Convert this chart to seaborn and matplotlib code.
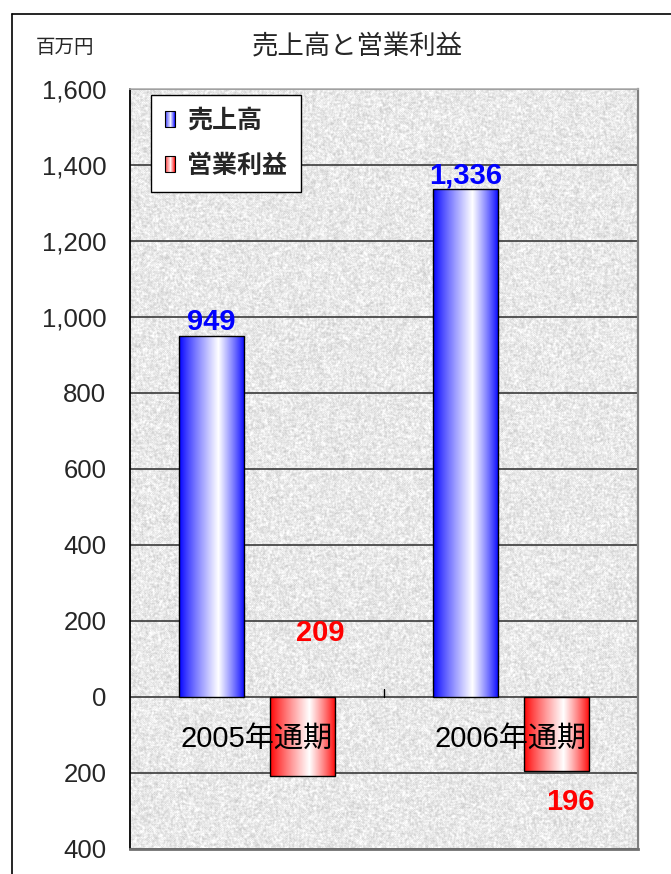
import numpy as np
import pandas as pd
import matplotlib
matplotlib.use("Agg")
import matplotlib.pyplot as plt
import seaborn as sns
from matplotlib.patches import Rectangle
from matplotlib.lines import Line2D
from matplotlib.legend_handler import HandlerBase
from matplotlib.ticker import FuncFormatter, MultipleLocator

# ---------------- data ----------------
periods = ["2005年通期", "2006年通期"]
series_names = ["売上高", "営業利益"]
sales = [949, 1336]
op_income = [-209, -196]
title = "売上高と営業利益"
unit = "百万円"

df = pd.DataFrame({
    "period": periods * 2,
    "series": [series_names[0]] * len(periods) + [series_names[1]] * len(periods),
    "value": sales + op_income,
})

# ---------------- style ----------------
sns.set_style("white")
plt.rcParams["font.family"] = ["Liberation Sans", "Noto Sans CJK JP"]

BLUE = np.array([0.0, 0.0, 1.0])
RED = np.array([1.0, 0.0, 0.0])


def grad_weight(t, peak=0.6):
    return np.where(t < peak, t / peak, (1 - t) / (1 - peak)) ** 0.85


def grad_img(rgb, n=96):
    t = np.linspace(0, 1, n)
    w = grad_weight(t)
    img = rgb[None, :] * (1 - w)[:, None] + w[:, None]
    return img[None, :, :]


fig = plt.figure(figsize=(6.71, 8.74), dpi=100)
ax = fig.add_axes([130 / 671, 1 - 849 / 874, 508 / 671, 760 / 874])

# granite-like background texture (decoration only)
rng = np.random.default_rng(7)
nz = rng.random((760, 508))
sm = nz.copy()
for dx, dy in [(1, 0), (-1, 0), (0, 1), (0, -1)]:
    sm += np.roll(np.roll(nz, dx, 0), dy, 1)
sm /= 5.0
sm = (sm - sm.mean()) / sm.std()
tex = np.clip(0.91 + 0.035 * sm + 0.02 * (nz - 0.5), 0, 1)
ax.imshow(tex, cmap="gray", vmin=0, vmax=1, extent=[0, 1, 0, 1],
          transform=ax.transAxes, aspect="auto", zorder=0,
          interpolation="nearest")

palette = {series_names[0]: "#0000FF", series_names[1]: "#FF0000"}
sns.barplot(data=df, x="period", y="value", hue="series", order=periods,
            hue_order=series_names, palette=palette, width=0.716, gap=0.285,
            edgecolor="black", linewidth=1.0, legend=False, ax=ax)

bars = list(ax.patches)
for p in bars:
    fc = np.array(p.get_facecolor()[:3])
    base = BLUE if fc[2] > fc[0] else RED
    x, y = p.get_x(), p.get_y()
    w, h = p.get_width(), p.get_height()
    y0, y1 = min(y, y + h), max(y, y + h)
    im = ax.imshow(grad_img(base), extent=[x, x + w, y0, y1], aspect="auto",
                   zorder=1.5, interpolation="bilinear")
    im.set_clip_path(p)
    p.set_facecolor("none")
    p.set_zorder(2)

# data labels
for i, v in enumerate(sales):
    ax.text(i - 0.179, v, f"{abs(v):,}", ha="center", va="bottom",
            fontsize=21, fontweight="bold", color="#0000FF", zorder=5)
op_label_pos = [(0.248, 168), (1.232, -276)]
for i, v in enumerate(op_income):
    lx, ly = op_label_pos[i]
    ax.text(lx, ly, f"{abs(v):,}", ha="center", va="center",
            fontsize=21, fontweight="bold", color="#FF0000", zorder=5)

# category labels inside plot near zero line
for i, lab in enumerate(periods):
    ax.text(i, -110, lab, ha="center", va="center", fontsize=21,
            color="black", zorder=5)

# small category separator tick on zero line
ax.plot([0.5, 0.5], [0, 22], color="black", lw=1, zorder=3)

ax.set_xlim(-0.5, 1.5)
ax.set_ylim(-400, 1600)
ax.yaxis.set_major_locator(MultipleLocator(200))
ax.yaxis.set_major_formatter(FuncFormatter(lambda v, _: f"{abs(int(round(v))):,}"))
ax.yaxis.grid(True, color="#3a3a3a", lw=1.2)
ax.set_axisbelow(True)
ax.tick_params(axis="y", length=0, pad=17, labelsize=18.5)
ax.tick_params(axis="x", length=0, labelbottom=False)
ax.set_xlabel("")
ax.set_ylabel("")

ax.spines["left"].set_color("black")
ax.spines["left"].set_linewidth(1.3)
ax.spines["top"].set_color("#b0b0b0")
ax.spines["top"].set_linewidth(1.2)
ax.spines["right"].set_color("#808080")
ax.spines["right"].set_linewidth(1.6)
ax.spines["bottom"].set_color("#707070")
ax.spines["bottom"].set_linewidth(2.0)


# legend with gradient swatches
class GradHandler(HandlerBase):
    def __init__(self, rgb):
        super().__init__()
        self.rgb = rgb

    def create_artists(self, legend, orig_handle, xdescent, ydescent,
                       width, height, fontsize, trans):
        x0, y0 = -xdescent, -ydescent
        n = 12
        arts = []
        for k in range(n):
            t = (k + 0.5) / n
            wv = float(grad_weight(np.array(t)))
            c = self.rgb * (1 - wv) + wv
            arts.append(Rectangle((x0 + k * width / n, y0), width / n, height,
                                  facecolor=c, edgecolor="none", transform=trans))
        arts.append(Rectangle((x0, y0), width, height, facecolor="none",
                              edgecolor="black", lw=0.8, transform=trans))
        return arts


h1 = Rectangle((0, 0), 1, 1)
h2 = Rectangle((0, 0), 1, 1)
leg = ax.legend([h1, h2], series_names,
                handler_map={h1: GradHandler(BLUE), h2: GradHandler(RED)},
                loc="upper left", bbox_to_anchor=(0.041, 0.992),
                borderaxespad=0, fancybox=False, frameon=True,
                edgecolor="black", facecolor="white", framealpha=1,
                prop={"weight": "bold", "size": 18},
                handlelength=0.4, handleheight=0.62, handletextpad=0.5,
                labelspacing=0.85, borderpad=0.55)
leg.get_frame().set_linewidth(1.0)
leg.set_zorder(6)

# title and unit
fig.text(357 / 671, 1 - 47 / 874, title, ha="center", va="center", fontsize=19)
fig.text(65 / 671, 1 - 48 / 874, unit, ha="center", va="center", fontsize=14)

# outer chart frame (partly outside the image)
fig.add_artist(Line2D([12 / 671, 12 / 671], [0, 1 - 14 / 874],
                      transform=fig.transFigure, color="black", lw=1.2))
fig.add_artist(Line2D([12 / 671, 1], [1 - 14 / 874, 1 - 14 / 874],
                      transform=fig.transFigure, color="black", lw=1.2))

fig.savefig("out.png", dpi=100)
